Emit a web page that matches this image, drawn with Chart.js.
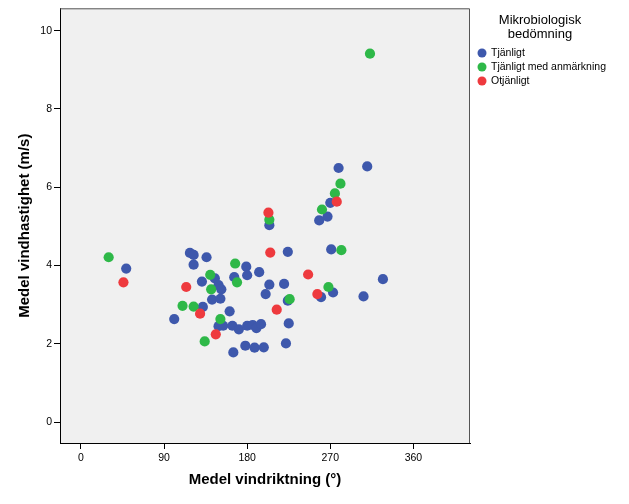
<!DOCTYPE html>
<html>
<head>
<meta charset="utf-8">
<script src="https://cdn.jsdelivr.net/npm/chart.js@4.4.1/dist/chart.umd.min.js"></script>
<style>
  html, body { margin: 0; padding: 0; background: #fff; }
</style>
</head>
<body>
<canvas id="chart" width="629" height="504"></canvas>
<script>
const seriesNames = ['Tjänligt', 'Tjänligt med anmärkning', 'Otjänligt'];
const legendTitle = ['Mikrobiologisk', 'bedömning'];
const xTicks = [0, 90, 180, 270, 360];
const yTicks = [0, 2, 4, 6, 8, 10];

// Tjänligt (blue)
const tjanligtDir = [49, 118, 122, 136, 122, 179, 193, 180, 145, 166, 131, 149, 152, 204, 200, 142,
  151, 132, 161, 101, 149, 154, 164, 171, 180, 186, 190, 195, 178, 188, 198, 165,
  224, 271, 327, 220, 273, 260, 306, 224, 225, 222, 204, 279, 310, 270, 267, 258];
const tjanligtSpeed = [3.92, 4.32, 4.27, 4.21, 4.02, 3.97, 3.83, 3.75, 3.67, 3.70, 3.59, 3.50, 3.39, 3.51, 3.27, 3.13,
  3.15, 2.94, 2.83, 2.63, 2.45, 2.46, 2.46, 2.37, 2.46, 2.48, 2.40, 2.50, 1.95, 1.90, 1.91, 1.78,
  4.35, 4.41, 3.65, 3.53, 3.31, 3.19, 3.21, 3.10, 2.52, 2.01, 5.03, 6.49, 6.53, 5.60, 5.25, 5.15];

// Tjänligt med anmärkning (green)
const anmDir = [30, 167, 140, 169, 141, 110, 122, 151, 134, 204, 313, 281, 275, 261, 282, 268, 226];
const anmSpeed = [4.21, 4.05, 3.76, 3.57, 3.39, 2.97, 2.95, 2.63, 2.06, 5.17, 9.41, 6.09, 5.84, 5.43, 4.39, 3.45, 3.14];

// Otjänligt (red)
const otjDir = [46, 114, 129, 146, 203, 205, 277, 246, 256, 212];
const otjSpeed = [3.57, 3.45, 2.77, 2.24, 5.35, 4.33, 5.63, 3.77, 3.27, 2.87];

const colors = ['#3e58ac', '#2eb848', '#ee3a3e'];
const fontFamily = '"Liberation Sans", Arial, sans-serif';

function toPoints(xs, ys) {
  return xs.map((x, i) => ({ x: x, y: ys[i] }));
}

// plot background and the top/right frame lines
const plotFrame = {
  id: 'plotFrame',
  beforeDraw(chart) {
    const { ctx, chartArea: a } = chart;
    ctx.save();
    ctx.fillStyle = '#f0f0f0';
    ctx.fillRect(a.left, a.top, a.right - a.left, a.bottom - a.top);
    ctx.restore();
  },
  afterDraw(chart) {
    const { ctx, chartArea: a } = chart;
    ctx.save();
    ctx.strokeStyle = '#555';
    ctx.lineWidth = 1;
    ctx.beginPath();
    ctx.moveTo(a.left, a.top + 0.5);
    ctx.lineTo(a.right - 0.5, a.top + 0.5);
    ctx.lineTo(a.right - 0.5, a.bottom);
    ctx.stroke();
    ctx.restore();
  }
};

// legend on the right, drawn by hand
const sideLegend = {
  id: 'sideLegend',
  afterDraw(chart) {
    const ctx = chart.ctx;
    ctx.save();
    ctx.fillStyle = '#000';
    ctx.textAlign = 'center';
    ctx.textBaseline = 'middle';
    ctx.font = '13px ' + fontFamily;
    legendTitle.forEach((t, i) => ctx.fillText(t, 540, 20 + i * 14));
    ctx.font = '10.5px ' + fontFamily;
    ctx.textAlign = 'left';
    chart.data.datasets.forEach((ds, i) => {
      const y = 53 + i * 14;
      ctx.fillStyle = ds.backgroundColor;
      ctx.beginPath();
      ctx.arc(482, y, 4.5, 0, Math.PI * 2);
      ctx.fill();
      ctx.fillStyle = '#000';
      ctx.fillText(ds.label, 491, y);
    });
    ctx.restore();
  }
};

const ctx = document.getElementById('chart').getContext('2d');
new Chart(ctx, {
  type: 'scatter',
  data: {
    datasets: [
      { label: seriesNames[0], data: toPoints(tjanligtDir, tjanligtSpeed), backgroundColor: colors[0], order: 3 },
      { label: seriesNames[1], data: toPoints(anmDir, anmSpeed), backgroundColor: colors[1], order: 2 },
      { label: seriesNames[2], data: toPoints(otjDir, otjSpeed), backgroundColor: colors[2], order: 1 }
    ]
  },
  options: {
    responsive: false,
    animation: false,
    layout: { padding: { top: 7, right: 159, left: 0, bottom: 0 } },
    elements: { point: { radius: 5.1, borderWidth: 0, hoverRadius: 5.1 } },
    plugins: {
      legend: { display: false },
      tooltip: { enabled: false }
    },
    scales: {
      x: {
        type: 'linear',
        min: -22.7,
        max: 421.3,
        afterBuildTicks: scale => { scale.ticks = xTicks.map(v => ({ value: v })); },
        afterFit: scale => { scale.height = 61; },
        grid: { drawOnChartArea: false, tickLength: 6, tickColor: '#000' },
        border: { display: true, color: '#000' },
        ticks: { color: '#000', padding: 3, font: { family: fontFamily, size: 10.5 }, maxRotation: 0 },
        title: {
          display: true,
          text: 'Medel vindriktning (°)',
          color: '#000',
          font: { family: fontFamily, size: 15, weight: 'bold' },
          padding: { top: 0, bottom: 15 }
        }
      },
      y: {
        type: 'linear',
        min: -0.535,
        max: 10.57,
        afterBuildTicks: scale => { scale.ticks = yTicks.map(v => ({ value: v })); },
        afterFit: scale => { scale.width = 60; },
        grid: { drawOnChartArea: false, tickLength: 6, tickColor: '#000' },
        border: { display: true, color: '#000' },
        ticks: { color: '#000', padding: 2, font: { family: fontFamily, size: 10.5 } },
        title: {
          display: true,
          text: 'Medel vindhastighet (m/s)',
          color: '#000',
          font: { family: fontFamily, size: 15, weight: 'bold' },
          padding: { top: 16, bottom: 0 }
        }
      }
    }
  },
  plugins: [plotFrame, sideLegend]
});
</script>
</body>
</html>
